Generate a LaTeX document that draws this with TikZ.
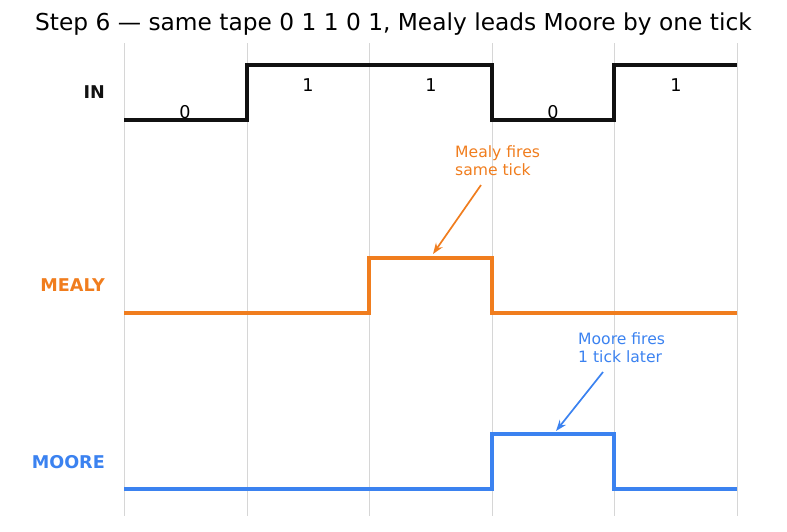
\documentclass[tikz,border=0pt]{standalone}
\usepackage{fontspec}
\setmainfont{DejaVu Sans}
\usepackage{xcolor}
\usetikzlibrary{arrows.meta}
\definecolor{inkc}{HTML}{111111}
\definecolor{mealyc}{HTML}{F07D1E}
\definecolor{moorec}{HTML}{3B82F0}
\definecolor{gridc}{HTML}{D6D6D6}

\begin{document}
\begin{tikzpicture}[
  x=1pt, y=-1pt,
  gridln/.style={draw=gridc, line width=0.8pt},
  wave/.style={line width=3.4pt, line join=miter},
  sig/.style={font=\fontsize{17.6}{19}\selectfont\bfseries, anchor=east, inner sep=0pt},
  bit/.style={font=\fontsize{17.6}{19}\selectfont, inner sep=0pt},
  note/.style={font=\fontsize{15.6}{18}\selectfont, align=left, anchor=north west, inner sep=0pt},
  arr/.style={-{Stealth[length=11pt,width=8pt]}, line width=1.7pt}
]
\useasboundingbox (0,0) rectangle (787,531);
\node[font=\fontsize{23.3}{25}\selectfont] (title) at (393.5,24) {Step 6 — same tape 0 1 1 0 1, Mealy leads Moore by one tick};
% tick grid
\foreach \x in {124,247,369,492,614,737}
  \draw[gridln] (\x,43) -- (\x,516);
% waveforms
\draw[wave, draw=inkc] (124,120) -- (247,120) -- (247,65) -- (492,65) -- (492,120) -- (614,120) -- (614,65) -- (737,65);
\draw[wave, draw=mealyc] (124,313) -- (369,313) -- (369,258) -- (492,258) -- (492,313) -- (737,313);
\draw[wave, draw=moorec] (124,489) -- (492,489) -- (492,434) -- (614,434) -- (614,489) -- (737,489);
% tape bits
\foreach \x/\y/\b in {185/112/0, 308/85/1, 431/85/1, 553/112/0, 676/85/1}
  \node[bit] (bit\x) at (\x,\y) {\b};
% signal names
\node[sig, text=inkc] (lin) at (105,92) {IN};
\node[sig, text=mealyc] (lmealy) at (105,285) {MEALY};
\node[sig, text=moorec] (lmoore) at (105,462) {MOORE};
% annotations
\node[note, text=mealyc] (mnote) at (455,145) {Mealy fires\\same tick};
\coordinate (mtail) at (481,185);
\coordinate (mhead) at (433,254);
\draw[arr, mealyc] (mtail) -- (mhead);
\node[note, text=moorec] (onote) at (578,332) {Moore fires\\1 tick later};
\coordinate (otail) at (603,372);
\coordinate (ohead) at (556,431);
\draw[arr, moorec] (otail) -- (ohead);
\end{tikzpicture}
\end{document}
